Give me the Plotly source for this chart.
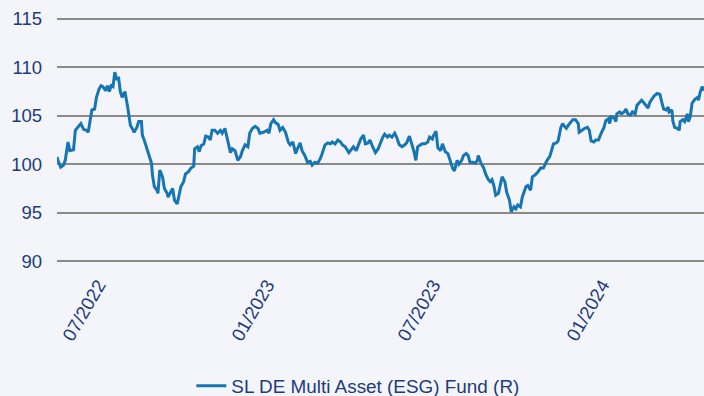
import pandas as pd
import plotly.graph_objects as go

# Fund price index, days counted from the first valuation date
start_date = "2022-05-17"
day = [
    0, 1, 4, 7, 9, 12, 14, 18, 20, 23, 26, 29, 32, 34, 36, 38, 41, 43, 46, 48,
    50, 53, 55, 57, 59, 61, 63, 65, 67, 69, 71, 74, 77, 80, 82, 84, 87, 89, 92, 93,
    95, 98, 100, 103, 104, 106, 109, 110, 112, 115, 117, 120, 121, 124, 126, 128, 131, 133, 135, 138,
    140, 143, 146, 149, 150, 153, 155, 157, 160, 162, 165, 167, 169,
    172, 175, 178, 180, 183, 186, 189, 191, 194, 197, 200, 202, 205, 208, 210, 213, 216, 219, 221, 225,
    229, 231, 233, 236, 238, 241, 243, 246, 249, 252, 254, 257, 260, 262, 265, 267, 270, 273, 276, 278,
    281, 284, 287, 289, 292, 295, 298, 300, 303, 306, 309, 311, 314, 318, 321, 323, 326, 329, 331, 334,
    336, 339, 341, 344,
    347, 350, 352, 355, 357, 360, 362, 365, 368, 370, 373, 376, 379, 381, 384, 386, 389, 391, 393, 396,
    398, 401, 404, 406, 409, 410, 413, 415, 418, 420, 423, 426, 429, 431, 433, 436, 438, 441, 443, 446,
    448, 450, 453, 456, 458, 459, 462, 465, 467, 470, 472, 474, 476, 478, 481, 483, 485, 488, 490, 493,
    495, 498, 500, 502, 505, 507, 509, 511, 513, 516, 518, 521, 524,
    527, 530, 534, 537, 539, 541, 544, 546, 549, 551, 553, 555, 557, 559, 562, 565, 568, 569, 572, 575,
    578, 580, 582, 585, 587, 590, 593, 596, 598, 601, 602, 604, 607, 609, 610, 613, 615, 618, 620, 622,
    625, 627, 630, 632, 635, 637, 639, 642, 644, 646, 649, 651, 654, 657, 659, 661, 664, 666, 667, 670,
    671, 673, 676, 678, 679, 682, 684, 687, 688, 690, 692, 695, 698, 699, 701, 703, 705,
]
fund_value = [
    100.75, 100.4, 99.7, 99.9, 100.4, 102.3, 101.4, 101.5, 103.5, 103.8, 104.2, 103.6, 103.5, 103.3, 104.7, 105.6, 105.7, 106.9, 107.8, 108.1,
    108.0, 107.6, 108.1, 107.5, 108.1, 108.0, 109.5, 108.7, 109.0, 107.5, 106.9, 107.5, 105.9, 104.0, 103.7, 103.3, 103.8, 104.4, 104.4, 103.0,
    102.5, 101.6, 101.1, 100.1, 98.9, 97.7, 97.3, 97.0, 99.4, 98.7, 97.5, 97.0, 96.6, 97.1, 97.5, 96.3, 95.9, 96.8, 97.7, 98.2,
    99.0, 99.2, 99.6, 99.8, 101.6, 101.8, 101.3, 101.9, 102.1, 102.9, 102.8, 102.5, 103.5,
    103.5, 103.2, 103.5, 103.2, 103.7, 102.5, 101.2, 101.6, 101.4, 100.4, 100.8, 101.4, 102.0, 101.8, 103.2, 103.7, 103.9, 103.7, 103.2, 103.3,
    103.5, 103.2, 104.2, 104.6, 104.3, 104.1, 103.5, 103.8, 103.3, 102.3, 102.0, 102.3, 101.1, 101.6, 102.2, 101.4, 100.9, 100.2, 100.3, 99.9,
    100.2, 100.1, 100.6, 101.1, 102.0, 102.2, 102.1, 102.3, 102.1, 102.5, 102.3, 102.0, 101.8, 101.2, 101.5, 101.8, 101.4, 102.1, 102.6, 103.0,
    102.1, 102.2, 102.5, 101.8,
    101.2, 101.6, 102.1, 102.8, 103.1, 102.8, 103.0, 102.8, 103.2, 102.8, 102.0, 101.8, 102.0, 102.2, 102.9, 102.3, 101.3, 100.4, 101.8, 102.0,
    102.1, 102.1, 102.3, 102.8, 102.6, 102.9, 103.4, 101.7, 101.4, 102.1, 101.3, 101.1, 100.1, 99.6, 99.3, 100.4, 100.0, 100.4, 100.9, 101.1,
    100.9, 100.2, 100.2, 100.1, 100.4, 100.9, 100.1, 99.6, 99.0, 98.4, 98.2, 98.4, 97.8, 96.8, 97.0, 97.7, 98.7, 98.2, 97.1, 96.3,
    95.1, 95.6, 95.4, 95.8, 95.6, 96.6, 97.1, 97.7, 97.8, 97.3, 98.7, 98.9, 99.2,
    99.6, 99.6, 100.4, 100.8, 101.6, 102.1, 102.2, 102.4, 103.8, 104.2, 103.9, 103.7, 104.0, 104.2, 104.6, 104.6, 104.2, 103.3, 103.5, 103.7,
    103.8, 103.5, 102.4, 102.3, 102.5, 102.5, 103.2, 103.8, 104.5, 104.7, 104.2, 104.9, 104.8, 104.4, 105.2, 105.4, 105.2, 105.4, 105.7, 105.2,
    105.1, 105.4, 105.2, 106.1, 106.4, 106.6, 106.4, 106.1, 105.8, 106.4, 106.8, 107.1, 107.3, 107.2, 106.4, 105.7, 105.6, 105.9, 105.4, 105.6,
    104.5, 103.8, 103.7, 103.5, 104.4, 104.6, 104.4, 105.2, 104.4, 104.9, 106.3, 106.7, 106.9, 106.6, 107.5, 108.0, 107.6,
]
series_name = "SL DE Multi Asset (ESG) Fund (R)"
y_ticks = [90, 95, 100, 105, 110, 115]

dates = pd.Timestamp(start_date) + pd.to_timedelta(day, unit="D")

navy = "#1d3c78"
line_blue = "#1676b3"
bg = "#f4f5fb"
grid = "#8c8a84"
font_family = "Liberation Sans, Arial, sans-serif"
font_size = 18.5

fig = go.Figure()
fig.add_trace(go.Scatter(
    x=dates, y=fund_value, mode="lines", name=series_name,
    line=dict(color=line_blue, width=3),
))

fig.update_layout(
    width=704, height=396,
    margin=dict(l=57, r=0, t=17, b=133, autoexpand=False),
    paper_bgcolor=bg, plot_bgcolor=bg,
    font=dict(family=font_family, size=font_size, color=navy),
    showlegend=True,
    legend=dict(
        orientation="h", x=0.465, xanchor="center", y=-0.5, yanchor="middle",
        bgcolor="rgba(0,0,0,0)", font=dict(size=18.9, color=navy),
    ),
    xaxis=dict(
        range=[dates[0], dates[-1]], automargin=False,
        type="date", tick0="2022-07-01", dtick="M6", tickformat="%m/%Y",
        tickangle=-60, showgrid=False, zeroline=False, showline=False,
        ticks="outside", ticklen=3, tickcolor="rgba(0,0,0,0)",
        tickfont=dict(size=font_size, color=navy),
    ),
    yaxis=dict(
        range=[89.8, 115.2], automargin=False,
        tickvals=y_ticks, showgrid=True, gridcolor=grid, gridwidth=1.5,
        zeroline=False, showline=False, ticks="", ticklabelstandoff=14,
        tickfont=dict(size=font_size, color=navy),
    ),
)

fig.write_html("out.html")
